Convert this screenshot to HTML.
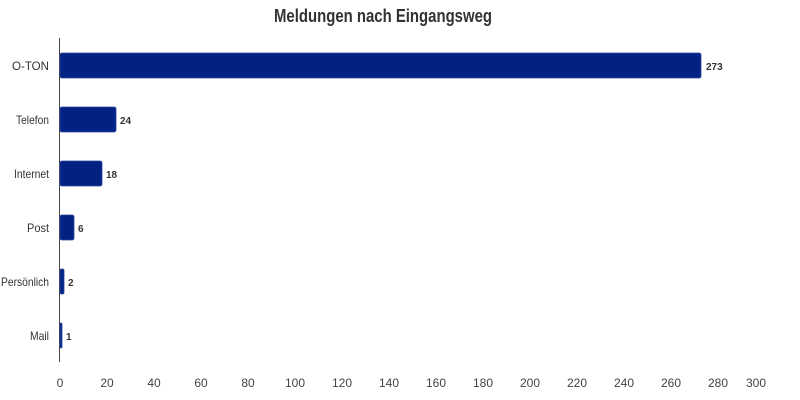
<!DOCTYPE html>
<html><head><meta charset="utf-8"><style>
html,body{margin:0;padding:0;background:#fff;}
svg{display:block;font-family:"Liberation Sans",sans-serif;}
</style></head><body>
<svg width="800" height="400" viewBox="0 0 800 400">
<text x="274" y="22" font-size="18" font-weight="bold" fill="#333" textLength="218" lengthAdjust="spacingAndGlyphs">Meldungen nach Eingangsweg</text>
<line x1="59.5" y1="38" x2="59.5" y2="362" stroke="#444" stroke-width="1"/>
<g fill="#012283" stroke="#2a45a0" stroke-width="0.8">
<rect x="60" y="53" width="641" height="25" rx="2"/>
<rect x="60" y="107" width="56" height="25" rx="2"/>
<rect x="60" y="161" width="42" height="25" rx="2"/>
<rect x="60" y="215" width="14" height="25" rx="2"/>
<rect x="60" y="269" width="4" height="25" rx="1.5"/>
<rect x="60" y="323" width="2" height="25" rx="1"/>
</g>
<g font-size="12" fill="#333" text-anchor="end">
<text x="49" y="70" textLength="37" lengthAdjust="spacingAndGlyphs">O-TON</text>
<text x="49" y="124" textLength="33" lengthAdjust="spacingAndGlyphs">Telefon</text>
<text x="49" y="178" textLength="35" lengthAdjust="spacingAndGlyphs">Internet</text>
<text x="49" y="232" textLength="22" lengthAdjust="spacingAndGlyphs">Post</text>
<text x="49" y="286" textLength="48" lengthAdjust="spacingAndGlyphs">Persönlich</text>
<text x="49" y="340" textLength="19" lengthAdjust="spacingAndGlyphs">Mail</text>
</g>
<g font-size="10" font-weight="bold" fill="#333">
<text x="706" y="70">273</text>
<text x="120" y="124">24</text>
<text x="106" y="178">18</text>
<text x="78" y="232">6</text>
<text x="68" y="286">2</text>
<text x="66" y="340">1</text>
</g>
<g font-size="12" fill="#444" text-anchor="middle">
<text x="60" y="387">0</text>
<text x="107" y="387">20</text>
<text x="154" y="387">40</text>
<text x="201" y="387">60</text>
<text x="248" y="387">80</text>
<text x="295" y="387">100</text>
<text x="342" y="387">120</text>
<text x="389" y="387">140</text>
<text x="436" y="387">160</text>
<text x="483" y="387">180</text>
<text x="530" y="387">200</text>
<text x="577" y="387">220</text>
<text x="624" y="387">240</text>
<text x="671" y="387">260</text>
<text x="718" y="387">280</text>
<text x="756" y="387">300</text>
</g>
</svg>
</body></html>
